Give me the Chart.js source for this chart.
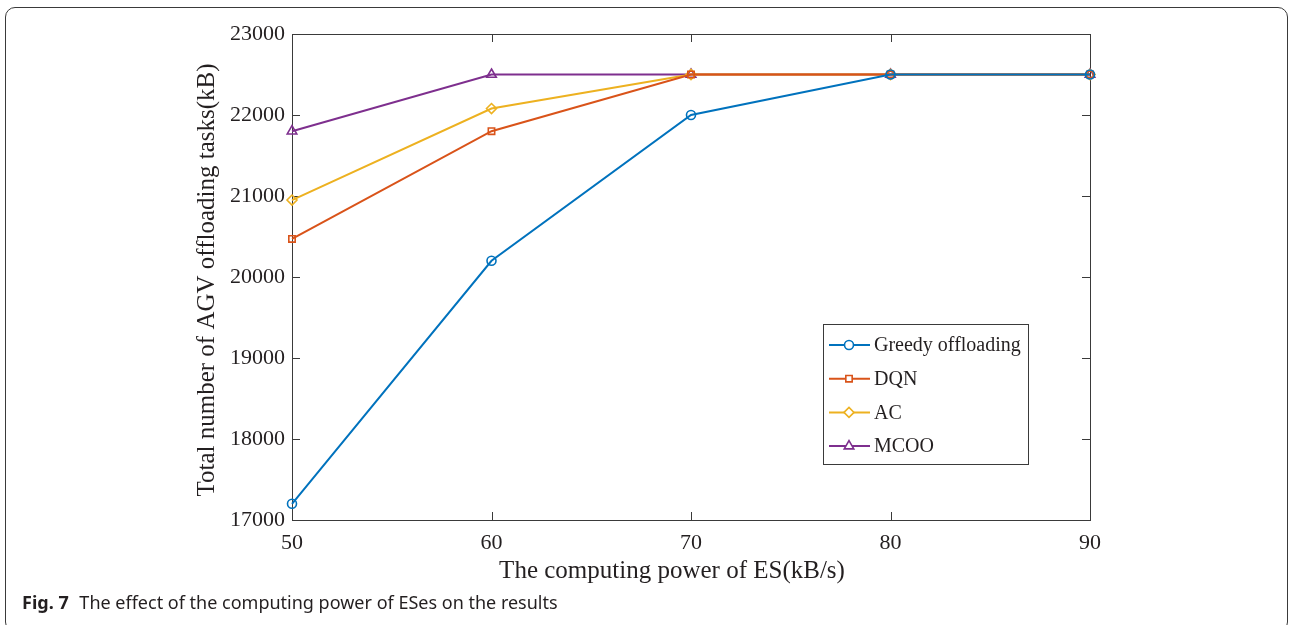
<!DOCTYPE html>
<html>
<head>
<meta charset="utf-8">
<script src="https://cdn.jsdelivr.net/npm/chart.js@4.4.1/dist/chart.umd.min.js"></script>
<style>
  body { margin: 0; background: #fff; }
  #wrap { position: relative; width: 1290px; height: 625px; overflow: hidden; }
  #frame { position: absolute; left: 5px; top: 7px; width: 1283px; height: 625px; border: 1px solid #3a3a3a; border-radius: 10px; box-sizing: border-box; }
  #chart { position: absolute; left: 0; top: 0; }
  #caption { position: absolute; left: 22px; top: 590px; font-family: "Noto Sans", sans-serif; font-size: 18px; color: #231f20; }
  #caption b { margin-right: 6px; }
</style>
</head>
<body>
<div id="wrap">
  <div id="frame"></div>
  <canvas id="chart" width="1290" height="625"></canvas>
  <div id="caption"><b>Fig. 7</b> The effect of the computing power of ESes on the results</div>
</div>
<script>
// data
const computingPower = [50, 60, 70, 80, 90];
const greedyOffloading = [17200, 20200, 22000, 22500, 22500];
const dqn = [20470, 21800, 22500, 22500, 22500];
const ac = [20950, 22080, 22500, 22500, 22500];
const mcoo = [21800, 22500, 22500, 22500, 22500];

const seriesNames = ["Greedy offloading", "DQN", "AC", "MCOO"];
const seriesValues = [greedyOffloading, dqn, ac, mcoo];
const seriesColors = ["#0072BD", "#D95319", "#EDB120", "#7E2F8E"];
const seriesMarkers = ["circle", "rect", "rectRot", "triangle"];
const markerSizes = [4.5, 4.5, 5, 5.5];

const xTicks = [50, 60, 70, 80, 90];
const yTicks = [17000, 18000, 19000, 20000, 21000, 22000, 23000];
const xTitle = "The computing power of ES(kB/s)";
const yTitle = "Total number of AGV offloading tasks(kB)";

const serif = '"Liberation Serif", "Times New Roman", serif';
const axisColor = "#3a3a3a";
const textColor = "#231f20";

// box around the plot with inward tick marks on all four sides
const boxTicks = {
  id: "boxTicks",
  beforeDatasetsDraw(chart) {
    const { ctx, chartArea: a, scales } = chart;
    const len = 8;
    ctx.save();
    ctx.strokeStyle = axisColor;
    ctx.lineWidth = 1;
    ctx.strokeRect(a.left + 0.5, a.top + 0.5, a.right - a.left, a.bottom - a.top);
    ctx.beginPath();
    yTicks.forEach((v) => {
      const y = Math.round(scales.y.getPixelForValue(v)) + 0.5;
      ctx.moveTo(a.left, y); ctx.lineTo(a.left + len, y);
      ctx.moveTo(a.right, y); ctx.lineTo(a.right - len, y);
    });
    xTicks.forEach((v) => {
      const x = Math.round(scales.x.getPixelForValue(v)) + 0.5;
      ctx.moveTo(x, a.bottom); ctx.lineTo(x, a.bottom - len);
      ctx.moveTo(x, a.top); ctx.lineTo(x, a.top + len);
    });
    ctx.stroke();

    // axis titles (MATLAB places the x label a little left of centre)
    ctx.fillStyle = textColor;
    ctx.font = "25px " + serif;
    ctx.textAlign = "center";
    ctx.textBaseline = "middle";
    ctx.fillText(xTitle, (a.left + a.right) / 2 - 19, a.bottom + 51);
    ctx.translate(a.left - 85, (a.top + a.bottom) / 2 + 3);
    ctx.rotate(-Math.PI / 2);
    ctx.fillText(yTitle, 0, 0);
    ctx.restore();
  },
};

// boxed legend inside the plot, lower right
const boxLegend = {
  id: "boxLegend",
  afterDraw(chart) {
    const { ctx } = chart;
    const x0 = 823, y0 = 324, w = 205, h = 140;
    ctx.save();
    ctx.fillStyle = "#fff";
    ctx.fillRect(x0, y0, w, h);
    ctx.strokeStyle = axisColor;
    ctx.lineWidth = 1;
    ctx.strokeRect(x0 + 0.5, y0 + 0.5, w, h);
    ctx.font = "20px " + serif;
    ctx.textBaseline = "middle";
    seriesNames.forEach((name, i) => {
      const y = y0 + 21 + i * 33.7;
      ctx.strokeStyle = seriesColors[i];
      ctx.lineWidth = 2;
      ctx.beginPath();
      ctx.moveTo(x0 + 6, y); ctx.lineTo(x0 + 47, y);
      ctx.stroke();
      ctx.fillStyle = "#fff";
      ctx.lineWidth = 1.6;
      Chart.helpers.drawPoint(ctx, { pointStyle: seriesMarkers[i], radius: markerSizes[i], rotation: 0, borderWidth: 1.6 }, x0 + 26, y);
      ctx.fillStyle = textColor;
      ctx.fillText(name, x0 + 51, y + 1);
    });
    ctx.restore();
  },
};

new Chart(document.getElementById("chart"), {
  type: "line",
  data: {
    datasets: seriesNames.map((name, i) => ({
      label: name,
      data: computingPower.map((x, j) => ({ x: x, y: seriesValues[i][j] })),
      borderColor: seriesColors[i],
      backgroundColor: "rgba(255,255,255,0)",
      borderWidth: 2,
      pointStyle: seriesMarkers[i],
      pointRadius: markerSizes[i],
      pointBorderWidth: 1.6,
      pointBorderColor: seriesColors[i],
      pointBackgroundColor: "rgba(255,255,255,0)",
      tension: 0,
      clip: false,
    })),
  },
  options: {
    responsive: false,
    animation: false,
    layout: { padding: { top: 34, right: 200, left: 0, bottom: 0 } },
    plugins: { legend: { display: false }, tooltip: { enabled: false } },
    scales: {
      x: {
        type: "linear",
        min: 50,
        max: 90,
        afterFit: (s) => { s.height = 105; },
        afterBuildTicks: (s) => { s.ticks = xTicks.map((v) => ({ value: v })); },
        grid: { display: false, drawTicks: false },
        border: { display: false },
        ticks: { padding: 10, color: textColor, font: { family: serif, size: 22 }, callback: (v) => String(v) },
      },
      y: {
        min: 17000,
        max: 23000,
        afterFit: (s) => { s.width = 292; },
        afterBuildTicks: (s) => { s.ticks = yTicks.map((v) => ({ value: v })); },
        grid: { display: false, drawTicks: false },
        border: { display: false },
        ticks: { padding: 7, color: textColor, font: { family: serif, size: 22 }, callback: (v) => String(v) },
      },
    },
  },
  plugins: [boxTicks, boxLegend],
});
</script>
</body>
</html>
